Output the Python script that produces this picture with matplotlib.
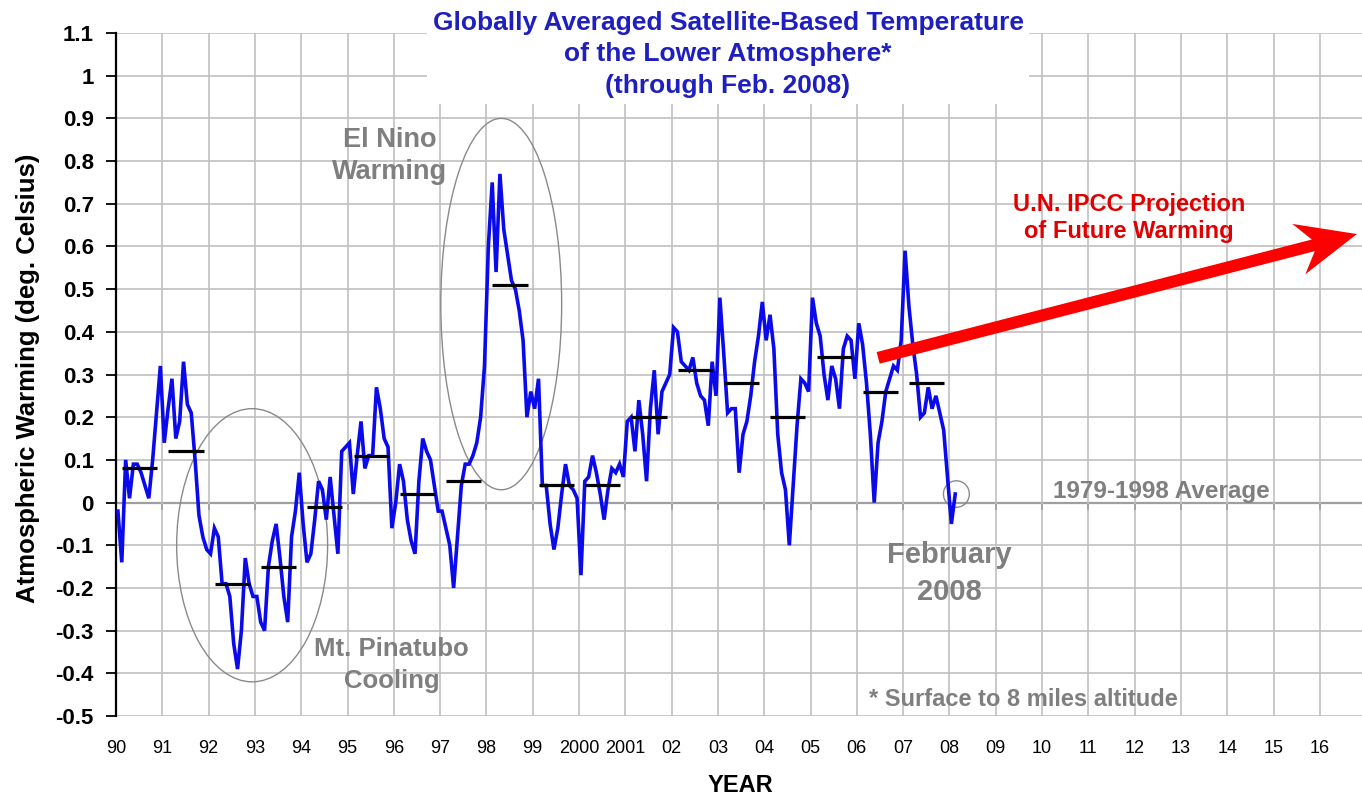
import numpy as np
import matplotlib
matplotlib.use("Agg")
import matplotlib.pyplot as plt
from matplotlib.patches import Ellipse, FancyArrow
from matplotlib.transforms import IdentityTransform

plt.rcParams['font.family'] = ['Liberation Sans', 'DejaVu Sans']

# ---- data (monthly anomalies, deg C, Jan 1990 - Feb 2008) ----
start_year = 1990
monthly_anom = [
    -0.02, -0.14, 0.10, 0.01, 0.09, 0.09, 0.07, 0.04, 0.01, 0.10, 0.21, 0.32,   # 1990
    0.14, 0.22, 0.29, 0.15, 0.19, 0.33, 0.23, 0.21, 0.10, -0.03, -0.08, -0.11,  # 1991
    -0.12, -0.06, -0.08, -0.19, -0.19, -0.22, -0.33, -0.39, -0.30, -0.13, -0.19, -0.22,  # 1992
    -0.22, -0.28, -0.30, -0.15, -0.09, -0.05, -0.13, -0.22, -0.28, -0.08, -0.02, 0.07,  # 1993
    -0.05, -0.14, -0.12, -0.04, 0.05, 0.03, -0.04, 0.06, -0.03, -0.12, 0.12, 0.13,  # 1994
    0.14, 0.02, 0.11, 0.19, 0.08, 0.11, 0.11, 0.27, 0.22, 0.15, 0.13, -0.06,    # 1995
    0.00, 0.09, 0.05, -0.04, -0.09, -0.12, 0.05, 0.15, 0.12, 0.10, 0.04, -0.02,  # 1996
    -0.02, -0.06, -0.10, -0.20, -0.08, 0.04, 0.09, 0.09, 0.11, 0.14, 0.20, 0.32,  # 1997
    0.60, 0.75, 0.54, 0.77, 0.64, 0.58, 0.52, 0.50, 0.45, 0.38, 0.20, 0.26,     # 1998
    0.22, 0.29, 0.04, 0.04, -0.05, -0.11, -0.06, 0.02, 0.09, 0.04, 0.03, 0.01,  # 1999
    -0.17, 0.05, 0.06, 0.11, 0.07, 0.02, -0.04, 0.03, 0.08, 0.07, 0.09, 0.06,   # 2000
    0.19, 0.20, 0.12, 0.24, 0.16, 0.05, 0.22, 0.31, 0.16, 0.26, 0.28, 0.30,     # 2001
    0.41, 0.40, 0.33, 0.32, 0.31, 0.34, 0.28, 0.25, 0.24, 0.18, 0.33, 0.25,     # 2002
    0.48, 0.35, 0.21, 0.22, 0.22, 0.07, 0.16, 0.19, 0.25, 0.33, 0.39, 0.47,     # 2003
    0.38, 0.44, 0.36, 0.16, 0.07, 0.03, -0.10, 0.04, 0.18, 0.29, 0.28, 0.26,    # 2004
    0.48, 0.42, 0.39, 0.30, 0.24, 0.32, 0.29, 0.22, 0.36, 0.39, 0.38, 0.29,     # 2005
    0.42, 0.37, 0.28, 0.16, 0.00, 0.14, 0.19, 0.26, 0.29, 0.32, 0.31, 0.38,     # 2006
    0.59, 0.46, 0.37, 0.30, 0.20, 0.21, 0.27, 0.22, 0.25, 0.21, 0.17, 0.06,     # 2007
    -0.05, 0.02,                                                                # 2008
]

mean_years = list(range(1990, 2008))
annual_mean = [0.08, 0.12, -0.19, -0.15, -0.01, 0.11, 0.02, 0.05, 0.51,
               0.04, 0.04, 0.20, 0.31, 0.28, 0.20, 0.34, 0.26, 0.28]

tick_years = list(range(1990, 2017))
tick_labels = ['90', '91', '92', '93', '94', '95', '96', '97', '98', '99',
               '2000', '2001', '02', '03', '04', '05', '06', '07', '08', '09',
               '10', '11', '12', '13', '14', '15', '16']
y_ticks = [-0.5, -0.4, -0.3, -0.2, -0.1, 0, 0.1, 0.2, 0.3, 0.4, 0.5,
           0.6, 0.7, 0.8, 0.9, 1, 1.1]

# ---- figure ----
W, H = 1362, 799
fig = plt.figure(figsize=(W / 100, H / 100), dpi=100)
fig.patch.set_facecolor('white')
ax = fig.add_axes([116 / W, 1 - 716 / H, 1 - 116 / W, (716 - 33) / H])
ax.set_xlim(1990, 2016.91)
ax.set_ylim(-0.5, 1.1)

grid_c = '#c0c0c0'
ax.set_xticks(tick_years)
ax.set_xticklabels(tick_labels, fontsize=13)
ax.set_yticks(y_ticks)
ax.set_yticklabels(['%g' % v for v in y_ticks], fontsize=16, fontweight='bold')
ax.tick_params(axis='x', length=0, pad=17)
ax.tick_params(axis='y', direction='out', length=7, width=1.3, pad=9)
ax.grid(True, color=grid_c, lw=1.2, zorder=0)
ax.set_axisbelow(True)
for s in ['top', 'right', 'bottom']:
    ax.spines[s].set_visible(False)
ax.spines['left'].set_linewidth(1.6)

# category axis crossing at zero
zero_pos = (0 - (-0.5)) / 1.6
sec = ax.secondary_xaxis(zero_pos)
sec.set_xticks(tick_years)
sec.tick_params(direction='out', length=5, width=1.3, labelbottom=False, labeltop=False)
for s in sec.spines.values():
    s.set_linewidth(1.5)

# ellipses
ell_c = '#8a8a8a'
ax.add_patch(Ellipse((1992.94, -0.10), 3.26, 0.64, fill=False, ec=ell_c, lw=1.0, zorder=2))
ax.add_patch(Ellipse((1998.32, 0.465), 2.61, 0.87, fill=False, ec=ell_c, lw=1.0, zorder=2))
ax.add_patch(Ellipse((2008.15, 0.02), 0.56, 0.062, fill=False, ec=ell_c, lw=1.0, zorder=2))

# monthly series
t = start_year + (np.arange(len(monthly_anom)) + 0.5) / 12
ax.plot(t, monthly_anom, color='#0a0aeb', lw=2.6, zorder=3, solid_joinstyle='miter')

# annual means
for yr, m in zip(mean_years, annual_mean):
    ax.plot([yr + 0.13, yr + 0.89], [m, m], color='black', lw=2.3, zorder=4,
            solid_capstyle='butt')

# IPCC arrow (drawn in pixel space so the head keeps its shape)
tail = ax.transData.transform((2006.46, 0.339))
tip = ax.transData.transform((2016.8, 0.629))
arrow = FancyArrow(tail[0], tail[1], tip[0] - tail[0], tip[1] - tail[1],
                   width=12, head_width=52, head_length=60, overhang=0.25,
                   length_includes_head=True, color='#ff0000', lw=0,
                   transform=IdentityTransform(), zorder=5, clip_on=False)
ax.add_patch(arrow)

# annotations
gray = '#7f7f7f'
ax.text(1995.91, 0.812, 'El Nino\nWarming', color=gray, fontsize=19.5,
        fontweight='bold', ha='center', va='center', linespacing=1.3)
ax.text(1995.95, -0.38, 'Mt. Pinatubo\nCooling', color=gray, fontsize=18.5,
        fontweight='bold', ha='center', va='center', linespacing=1.45)
ax.text(2011.88, 0.666, 'U.N. IPCC Projection\nof Future Warming', color='#e00000',
        fontsize=17, fontweight='bold', ha='center', va='center', linespacing=1.2)
ax.text(2012.57, 0.025, '1979-1998 Average', color=gray, fontsize=17.5,
        fontweight='bold', ha='center', va='center')
ax.text(2007.99, -0.167, 'February\n2008', color=gray, fontsize=21,
        fontweight='bold', ha='center', va='center', linespacing=1.4)
ax.text(2009.59, -0.462, '* Surface to 8 miles altitude', color=gray, fontsize=17,
        fontweight='bold', ha='center', va='center')

# title with white box covering the grid
fig.text(728 / W, 1 - 54.5 / H,
         'Globally Averaged Satellite-Based Temperature\nof the Lower Atmosphere*\n(through Feb. 2008)',
         color='#1f1fbf', fontsize=19, fontweight='bold', ha='center', va='center',
         linespacing=1.42,
         bbox=dict(facecolor='white', edgecolor='none', boxstyle='square,pad=0.2'))

fig.text(28 / W, 1 - 378 / H, 'Atmospheric Warming (deg. Celsius)', rotation=90,
         fontsize=18.5, fontweight='bold', ha='center', va='center')
fig.text(740 / W, 1 - 785 / H, 'YEAR', fontsize=17, fontweight='bold',
         ha='center', va='center')

fig.savefig('out.png', dpi=100, facecolor='white')
